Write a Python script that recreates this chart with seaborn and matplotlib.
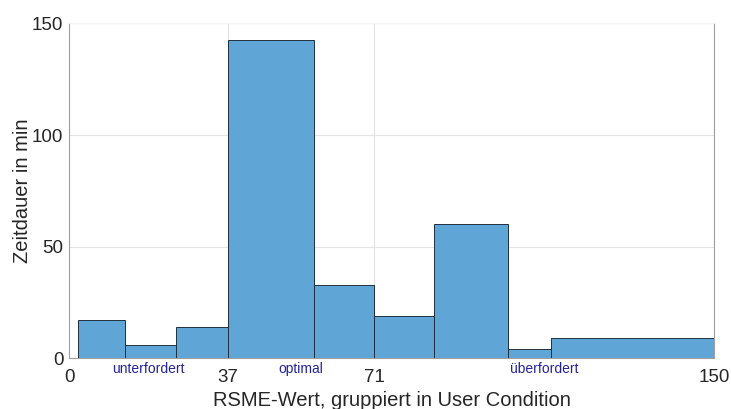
import numpy as np
import pandas as pd
import matplotlib
matplotlib.use("Agg")
import matplotlib.pyplot as plt
import matplotlib.transforms as mtransforms
import seaborn as sns

# Bin edges (RSME-Wert) and durations (min)
bin_edges = [2, 13, 25, 37, 57, 71, 85, 102, 112, 150]
dauer = [17, 6, 14, 142.5, 33, 19, 60, 4, 9]
major_ticks = [0, 37, 71, 150]
gruppen = ["unterfordert", "optimal", "überfordert"]
gruppen_pos = [18.5, 54, 110.5]

mitten = [(a + b) / 2 for a, b in zip(bin_edges[:-1], bin_edges[1:])]
df = pd.DataFrame({"rsme": mitten, "dauer": dauer})

sns.set_style("white")
plt.rcParams["font.family"] = ["Liberation Sans", "DejaVu Sans"]

fig = plt.figure(figsize=(7.31, 4.09), dpi=100)
ax = fig.add_axes([0.0944, 0.124, 0.8823, 0.8186])

sns.histplot(data=df, x="rsme", weights="dauer", bins=bin_edges,
             color="#5fa5d6", alpha=1.0, edgecolor="#1f2f3f",
             linewidth=0.7, ax=ax)

ax.set_xlim(0, 150)
ax.set_ylim(0, 150)
ax.set_xticks(major_ticks)
ax.set_yticks([0, 50, 100, 150])
ax.tick_params(axis="both", labelsize=13.5, colors="#262626", length=0)
ax.tick_params(axis="x", pad=8)
ax.tick_params(axis="y", pad=4)
ax.grid(True, color="#e3e3e3", linewidth=0.8)
ax.set_axisbelow(True)

ax.spines["top"].set_color("#f2f2f2")
for side in ["left", "bottom", "right"]:
    ax.spines[side].set_color("#a0a0a0")
    ax.spines[side].set_linewidth(0.8)

ax.set_xlabel("RSME-Wert, gruppiert in User Condition", fontsize=14.5,
              color="#262626", labelpad=3)
ax.set_ylabel("Zeitdauer in min", fontsize=14.5, color="#262626", labelpad=0)

trans = mtransforms.blended_transform_factory(ax.transData, ax.transAxes)
for name, pos in zip(gruppen, gruppen_pos):
    ax.text(pos, -0.033, name, transform=trans, ha="center", va="center",
            fontsize=10, color="#23239b")

fig.savefig("out.png", dpi=100)
